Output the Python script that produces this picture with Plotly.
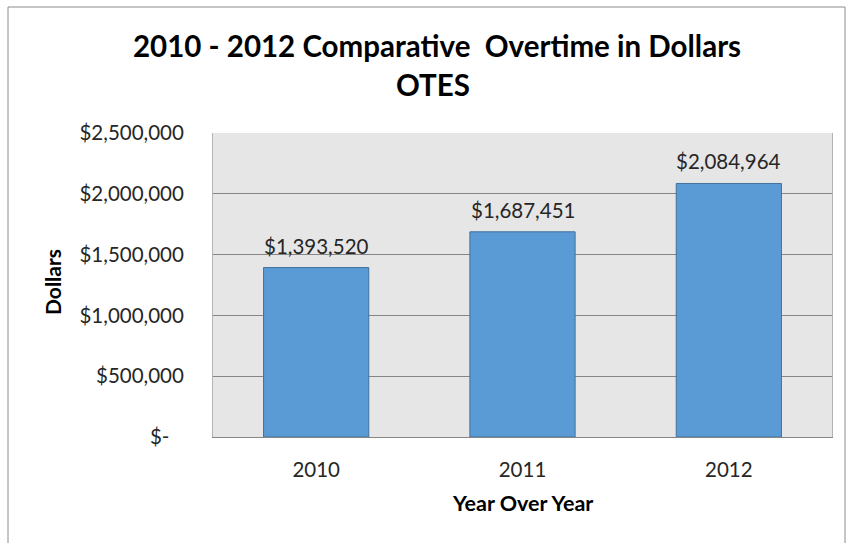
import plotly.graph_objects as go

# Overtime totals by year
years = ["2010", "2011", "2012"]
overtime = [1393520, 1687451, 2084964]

# Y axis ticks (accounting-style labels)
tick_values = [0, 500000, 1000000, 1500000, 2000000, 2500000]
tick_labels = ["$-\u2007\u2009", "$500,000", "$1,000,000", "$1,500,000", "$2,000,000", "$2,500,000"]

title_line1 = "2010 - 2012 Comparative  Overtime in Dollars"
title_line2 = "OTES"
y_title = "Dollars"
x_title = "Year Over Year"

W, H = 847, 543
L, R, T, B = 213, 15, 133, 106
plot_w = W - L - R
plot_h = H - T - B


def px_x(x):
    return (x - L) / plot_w


def px_y(y):
    return (H - B - y) / plot_h


FONT = "Lato, Carlito, 'Open Sans', sans-serif"
TEXT = "#262626"

fig = go.Figure(
    go.Bar(
        x=years,
        y=overtime,
        marker=dict(color="#5b9bd5", line=dict(color="#41719c", width=1)),
        width=0.51,
        hoverinfo="skip",
    )
)

# value labels above each bar (positioned by category index)
for i, v in enumerate(overtime):
    fig.add_annotation(
        x=i, y=v, xref="x", yref="y",
        text=f"${v:,.0f}", showarrow=False,
        yanchor="bottom", yshift=8,
        font=dict(family=FONT, size=20.5, color=TEXT),
    )

# two-line title
fig.add_annotation(
    x=px_x(437), y=px_y(45), xref="paper", yref="paper",
    text=f"<b>{title_line1}</b>", showarrow=False,
    xanchor="center", yanchor="middle",
    font=dict(family=FONT, size=29.5, color="#000000"),
)
fig.add_annotation(
    x=px_x(433), y=px_y(85), xref="paper", yref="paper",
    text=f"<b>{title_line2}</b>", showarrow=False,
    xanchor="center", yanchor="middle",
    font=dict(family=FONT, size=29.5, color="#000000"),
)

# axis titles
fig.add_annotation(
    x=px_x(52), y=px_y(282), xref="paper", yref="paper",
    text=f"<b>{y_title}</b>", showarrow=False, textangle=-90,
    xanchor="center", yanchor="middle",
    font=dict(family=FONT, size=21, color="#000000"),
)
fig.add_annotation(
    x=px_x(522), y=px_y(503), xref="paper", yref="paper",
    text=f"<b>{x_title}</b>", showarrow=False,
    xanchor="center", yanchor="middle",
    font=dict(family=FONT, size=21.5, color="#000000"),
)

# outer chart border
fig.add_shape(
    type="rect", xref="paper", yref="paper",
    x0=px_x(8), x1=px_x(845), y0=px_y(548), y1=px_y(7),
    line=dict(color="#8c8c8c", width=1), fillcolor="rgba(0,0,0,0)",
    layer="below",
)

fig.update_layout(
    width=W, height=H,
    margin=dict(l=L, r=R, t=T, b=B),
    paper_bgcolor="white",
    plot_bgcolor="#e6e6e6",
    showlegend=False,
)

fig.update_xaxes(
    type="category",
    range=[-0.5, 2.5],
    showline=True, linecolor="#868686", linewidth=1,
    showgrid=False,
    ticks="",
    ticklabelstandoff=14,
    tickfont=dict(family=FONT, size=20.5, color=TEXT),
)

fig.update_yaxes(
    range=[0, 2500000],
    tickvals=tick_values, ticktext=tick_labels,
    showgrid=True, gridcolor="#868686", gridwidth=1,
    showline=True, linecolor="#b4b4b4", linewidth=1, mirror=True,
    zeroline=False,
    ticks="",
    ticklabelstandoff=24,
    tickfont=dict(family=FONT, size=20.5, color=TEXT),
)

fig.write_html("out.html")
